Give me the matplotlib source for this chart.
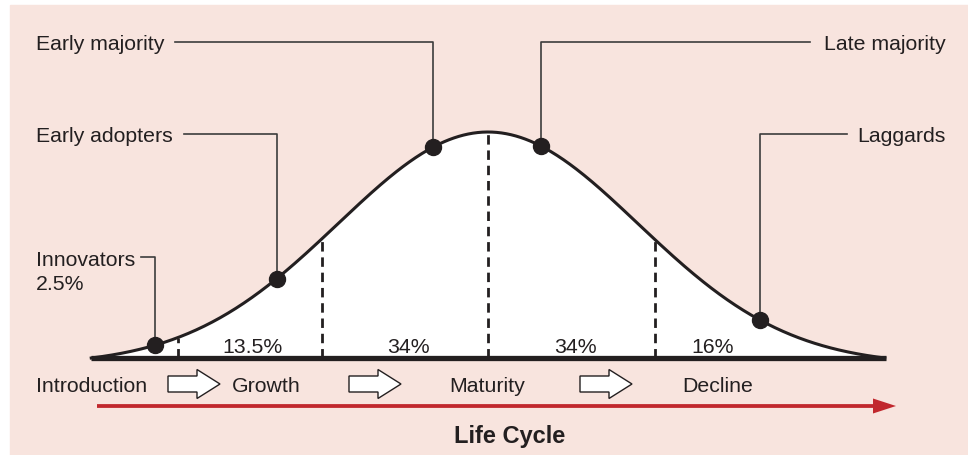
import numpy as np
import matplotlib.pyplot as plt
from matplotlib.patches import FancyArrow, Rectangle

plt.rcParams['font.family'] = ['Liberation Sans', 'DejaVu Sans']

# adopter groups and where they sit on the bell curve (in standard deviations)
groups = ["Innovators\n2.5%", "Early adopters", "Early majority", "Late majority", "Laggards"]
group_z = [-2.22, -1.41, -0.37, 0.35, 1.81]

# dashed boundaries and the share of each segment
bounds_z = [-2.07, -1.107, 0.0, 1.113]
shares = ["13.5%", "34%", "34%", "16%"]
share_z = [-1.567, -0.533, 0.58, 1.5]

stages = ["Introduction", "Growth", "Maturity", "Decline"]
axis_title = "Life Cycle"

z_end = 2.645
ink = '#231f20'
pink = '#f8e4de'


def curve(z):
    c = np.exp(-z_end ** 2 / 2)
    return (np.exp(-np.asarray(z) ** 2 / 2) - c) / (1 - c)


# pixel -> data helpers for the layout
def X(px):
    return (px - 488) / 150


def Y(py):
    return (359 - py) / 226


fig = plt.figure(figsize=(9.68, 4.56), dpi=100)
fig.patches.append(Rectangle((10 / 968, 0), 958 / 968, 450 / 456,
                             transform=fig.transFigure, color=pink, zorder=-1))
ax = fig.add_axes([0, 0, 1, 1])
ax.set_xlim(X(0), X(968))
ax.set_ylim(Y(456), Y(0))
ax.axis('off')
ax.patch.set_alpha(0)

z = np.linspace(-z_end, z_end, 500)
h = curve(z)
ax.fill_between(z, 0, h, color='white', lw=0, zorder=1)
ax.plot(z, h, color=ink, lw=2.2, zorder=3)
ax.plot([-z_end, X(886)], [0, 0], color=ink, lw=3.8, solid_capstyle='butt', zorder=3)

for b in bounds_z:
    ax.plot([b, b], [0, curve(b)], color=ink, lw=2.0, ls=(0, (3.4, 2.1)), zorder=2)

for s, sz in zip(shares, share_z):
    ax.text(sz, Y(353.5), s, ha='center', va='baseline', fontsize=15.3, color=ink, zorder=4)

# leader lines + labels
text_x = [36, 36, 36, 946, 946]
text_base = [265.5, 142.5, 50.5, 50.5, 142.5]
line_y = [258, 135, 43, 43, 135]
line_from = [141, 184, 175, 810, 847]
for i, g in enumerate(groups):
    gz = group_z[i]
    gy = curve(gz)
    ax.plot([X(line_from[i]), gz, gz], [Y(line_y[i]), Y(line_y[i]), gy],
            color='#3c3c3c', lw=1.2, zorder=2)
    ha = 'left' if text_x[i] < 400 else 'right'
    for k, part in enumerate(g.split('\n')):
        ax.text(X(text_x[i]), Y(text_base[i] + 24.5 * k), part, ha=ha, va='baseline',
                fontsize=15.3, color=ink)
ax.plot(group_z, curve(group_z), 'o', ms=11.5, color=ink, zorder=5)

# stages with hollow arrows between them
stage_x = [36, 232, 487, 682]
stage_ha = ['left', 'left', 'center', 'left']
for s, sx, ha in zip(stages, stage_x, stage_ha):
    ax.text(X(sx), Y(392), s, ha=ha, va='baseline', fontsize=15.3, color=ink)
for ax_px in [168, 349, 580]:
    ax.add_patch(FancyArrow(X(ax_px), Y(385), 52 / 150, 0, width=16 / 226,
                            head_width=29 / 226, head_length=23 / 150,
                            length_includes_head=True, fc='white', ec=ink, lw=1.0))

ax.add_patch(FancyArrow(X(97), Y(407), (896 - 97) / 150, 0, width=3.8 / 226,
                        head_width=15 / 226, head_length=23 / 150,
                        length_includes_head=True, color='#c1272d', lw=0))
ax.text(X(510), Y(443), axis_title, ha='center', va='baseline', fontsize=17,
        fontweight='bold', color=ink)

fig.savefig('out.png', dpi=100, facecolor='white')
